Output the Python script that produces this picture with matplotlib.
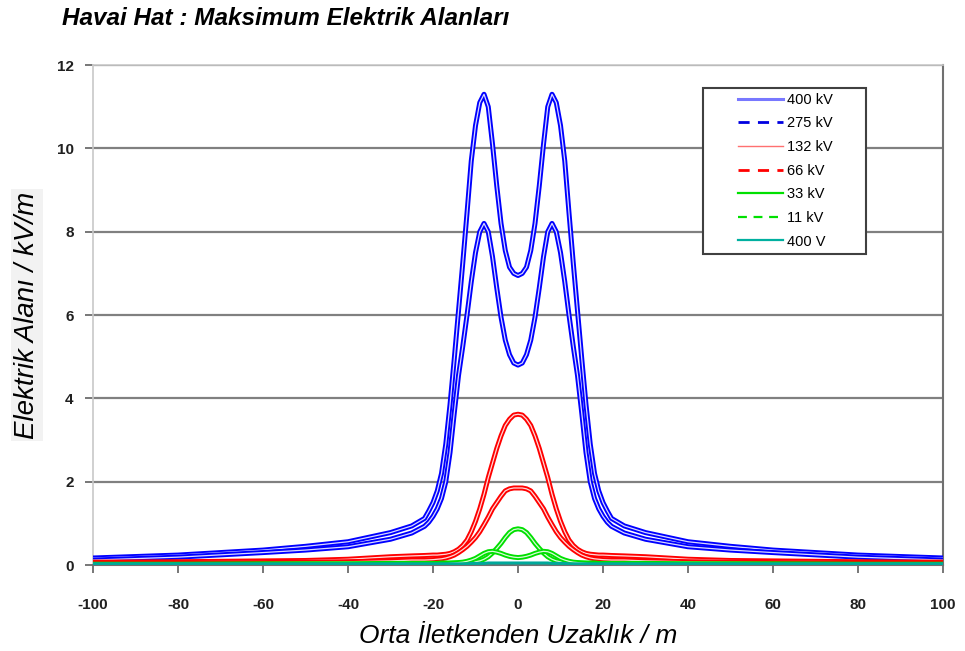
import matplotlib
matplotlib.use("Agg")
import matplotlib.pyplot as plt
import matplotlib.patheffects as pe
from matplotlib.lines import Line2D
from matplotlib.patches import Rectangle

plt.rcParams['font.family'] = ['Liberation Sans', 'DejaVu Sans']
plt.rcParams['axes.unicode_minus'] = False

# distance from centre conductor (m)
distance = [-100, -80, -60, -50, -40, -30, -25, -22, -21,
            -20, -19, -18, -17, -16, -15, -14, -13, -12, -11, -10, -9, -8, -7, -6, -5, -4, -3, -2, -1,
            0,
            1, 2, 3, 4, 5, 6, 7, 8, 9, 10, 11, 12, 13, 14, 15, 16, 17, 18, 19, 20,
            21, 22, 25, 30, 40, 50, 60, 80, 100]

# field strength (kV/m) for each line voltage
e_400kv = [0.17, 0.24, 0.36, 0.45, 0.56, 0.78, 0.94, 1.12, 1.3,
           1.5, 1.78, 2.2, 2.9, 3.85, 4.95, 6.1, 7.25, 8.45, 9.7, 10.55, 11.1, 11.3, 11.0, 10.1, 9.1, 8.2, 7.55, 7.15, 7.0,
           6.95,
           7.0, 7.15, 7.55, 8.2, 9.1, 10.1, 11.0, 11.3, 11.1, 10.55, 9.7, 8.45, 7.25, 6.1, 4.95, 3.85, 2.9, 2.2, 1.78, 1.5,
           1.3, 1.12, 0.94, 0.78, 0.56, 0.45, 0.36, 0.24, 0.17]
e_275kv = [0.12, 0.19, 0.30, 0.36, 0.44, 0.62, 0.77, 0.93, 1.03,
           1.17, 1.35, 1.6, 2.0, 2.7, 3.65, 4.55, 5.25, 6.0, 6.8, 7.5, 8.0, 8.2, 8.0, 7.4, 6.65, 5.95, 5.4, 5.05, 4.85,
           4.8,
           4.85, 5.05, 5.4, 5.95, 6.65, 7.4, 8.0, 8.2, 8.0, 7.5, 6.8, 6.0, 5.25, 4.55, 3.65, 2.7, 2.0, 1.6, 1.35, 1.17,
           1.03, 0.93, 0.77, 0.62, 0.44, 0.36, 0.30, 0.19, 0.12]
e_132kv = [0.07, 0.08, 0.10, 0.11, 0.14, 0.2, 0.22, 0.23, 0.235,
           0.24, 0.24, 0.25, 0.26, 0.28, 0.32, 0.38, 0.47, 0.6, 0.8, 1.05, 1.35, 1.7, 2.1, 2.45, 2.8, 3.1, 3.35, 3.5, 3.6,
           3.62,
           3.6, 3.5, 3.35, 3.1, 2.8, 2.45, 2.1, 1.7, 1.35, 1.05, 0.8, 0.6, 0.47, 0.38, 0.32, 0.28, 0.26, 0.25, 0.24, 0.24,
           0.235, 0.23, 0.22, 0.2, 0.14, 0.11, 0.10, 0.08, 0.07]
e_66kv = [0.04, 0.05, 0.06, 0.07, 0.08, 0.1, 0.12, 0.12, 0.125,
          0.13, 0.14, 0.15, 0.17, 0.2, 0.24, 0.3, 0.37, 0.45, 0.55, 0.66, 0.8, 0.97, 1.15, 1.35, 1.5, 1.65, 1.78, 1.83, 1.85,
          1.85,
          1.85, 1.83, 1.78, 1.65, 1.5, 1.35, 1.15, 0.97, 0.8, 0.66, 0.55, 0.45, 0.37, 0.3, 0.24, 0.2, 0.17, 0.15, 0.14, 0.13,
          0.125, 0.12, 0.12, 0.1, 0.08, 0.07, 0.06, 0.05, 0.04]
e_33kv = [0.02, 0.02, 0.03, 0.03, 0.03, 0.04, 0.04, 0.04, 0.04,
          0.04, 0.04, 0.05, 0.05, 0.05, 0.05, 0.05, 0.06, 0.06, 0.07, 0.08, 0.1, 0.14, 0.2, 0.29, 0.4, 0.52, 0.66, 0.78, 0.85,
          0.87,
          0.85, 0.78, 0.66, 0.52, 0.4, 0.29, 0.2, 0.14, 0.1, 0.08, 0.07, 0.06, 0.06, 0.05, 0.05, 0.05, 0.05, 0.05, 0.04, 0.04,
          0.04, 0.04, 0.04, 0.04, 0.03, 0.03, 0.03, 0.02, 0.02]
e_11kv = [0.01, 0.01, 0.01, 0.02, 0.02, 0.02, 0.02, 0.03, 0.03,
          0.03, 0.03, 0.03, 0.03, 0.04, 0.05, 0.06, 0.07, 0.09, 0.12, 0.16, 0.22, 0.28, 0.32, 0.33, 0.31, 0.28, 0.24, 0.21, 0.19,
          0.18,
          0.19, 0.21, 0.24, 0.28, 0.31, 0.33, 0.32, 0.28, 0.22, 0.16, 0.12, 0.09, 0.07, 0.06, 0.05, 0.04, 0.03, 0.03, 0.03, 0.03,
          0.03, 0.03, 0.02, 0.02, 0.02, 0.02, 0.01, 0.01, 0.01]
e_400v = [0.03, 0.03, 0.03, 0.03, 0.03, 0.03, 0.03, 0.03, 0.03,
          0.03, 0.03, 0.03, 0.03, 0.03, 0.03, 0.03, 0.03, 0.03, 0.04, 0.04, 0.04, 0.04, 0.05, 0.05, 0.05, 0.05, 0.05, 0.05, 0.05,
          0.05,
          0.05, 0.05, 0.05, 0.05, 0.05, 0.05, 0.05, 0.04, 0.04, 0.04, 0.04, 0.03, 0.03, 0.03, 0.03, 0.03, 0.03, 0.03, 0.03, 0.03,
          0.03, 0.03, 0.03, 0.03, 0.03, 0.03, 0.03, 0.03, 0.03]

labels = ['400 kV', '275 kV', '132 kV', '66 kV', '33 kV', '11 kV', '400 V']
series = [e_400kv, e_275kv, e_132kv, e_66kv, e_33kv, e_11kv, e_400v]
colors = ['#0000ff', '#0000ff', '#ff0000', '#ff0000', '#00e000', '#00e000', '#00a89a']
legend_colors = ['#7878ff', '#0000e0', '#ff7070', '#ff0000', '#00e000', '#00e000', '#00b0a0']
legend_styles = ['-', (0, (4, 3)), '-', (0, (4, 3)), '-', (0, (4, 3)), '-']
legend_widths = [2.2, 2.0, 1.0, 2.0, 1.6, 1.6, 1.6]

fig = plt.figure(figsize=(9.65, 6.51), dpi=100)
ax = fig.add_axes([0.0964, 0.132, 0.8808, 0.768])

# double-line look of the original curves
for vals, col, lab in zip(series, colors, labels):
    if lab == '400 V':
        ax.plot(distance, vals, color=col, lw=2.2, zorder=3)
    else:
        line, = ax.plot(distance, vals, color='white', lw=0.8, zorder=3)
        line.set_path_effects([pe.Stroke(linewidth=3.6, foreground=col, joinstyle='round'),
                               pe.Stroke(linewidth=0.9, foreground='white', alpha=0.85, joinstyle='round')])

ax.set_xlim(-100, 100)
ax.set_ylim(0, 12)
ax.set_xticks(range(-100, 101, 20))
ax.set_yticks(range(0, 13, 2))
ax.yaxis.grid(True, color='#808080', lw=1.6)
ax.set_axisbelow(True)

for side in ['left', 'top']:
    ax.spines[side].set_color('#c8c8c8')
    ax.spines[side].set_linewidth(1.2)
ax.spines['right'].set_color('#707070')
ax.spines['right'].set_linewidth(1.5)
ax.spines['bottom'].set_color('#707070')
ax.spines['bottom'].set_linewidth(1.5)

ax.tick_params(axis='both', direction='out', length=6, width=1.2, color='#606060',
               labelsize=11)
ax.tick_params(axis='x', pad=18)
ax.tick_params(axis='y', pad=8)
for t in ax.get_xticklabels() + ax.get_yticklabels():
    t.set_fontweight('bold')
    t.set_color('#202020')

ax.set_xlabel('Orta İletkenden Uzaklık / m', fontsize=19, fontstyle='italic', labelpad=8)
ax.set_ylabel('Elektrik Alanı / kV/m', fontsize=20, fontstyle='italic', labelpad=12,
              bbox=dict(facecolor='#f2f2f2', edgecolor='none', pad=2))
fig.text(0.064, 0.972, 'Havai Hat : Maksimum Elektrik Alanları', fontsize=17.5,
         fontstyle='italic', fontweight='bold', va='center')

# legend box drawn as in the original (white panel covering grid lines)
ax.add_patch(Rectangle((0.718, 0.622), 0.191, 0.332, transform=ax.transAxes,
                       facecolor='white', edgecolor='#404040', lw=1.5, zorder=4))
handles = [Line2D([0], [0], color=c, ls=s, lw=w)
           for c, s, w in zip(legend_colors, legend_styles, legend_widths)]
leg = ax.legend(handles, labels, loc='upper left', bbox_to_anchor=(0.745, 0.968),
                frameon=False, fontsize=10.5, handlelength=3.1,
                labelspacing=0.66, borderpad=0.3, handletextpad=0.25)
leg.set_zorder(5)

fig.savefig('out.png', dpi=100)
